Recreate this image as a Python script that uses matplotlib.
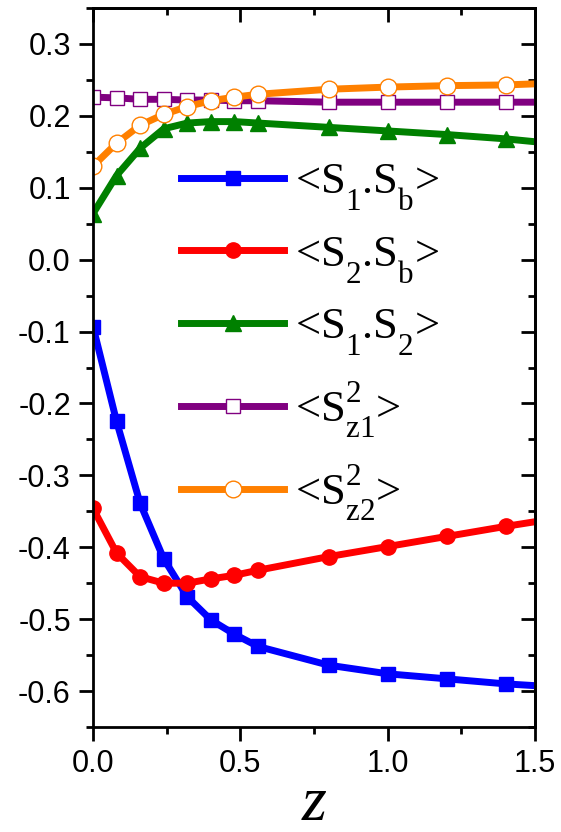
import matplotlib
matplotlib.use("Agg")
import matplotlib.pyplot as plt
from matplotlib import _mathtext
from matplotlib.ticker import MultipleLocator

plt.rcParams['font.family'] = ['Liberation Sans', 'DejaVu Sans']
plt.rcParams['mathtext.default'] = 'regular'
# deeper sub/superscripts, as in the Times-style labels
_mathtext.FontConstantsBase.sub1 = 0.85
_mathtext.FontConstantsBase.sub2 = 0.8
_mathtext.FontConstantsBase.sup1 = 0.95

# coupling strength z
z = [0.0, 0.08, 0.16, 0.24, 0.32, 0.40, 0.48, 0.56, 0.8, 1.0, 1.2, 1.4, 1.6]

s1_sb = [-0.093, -0.225, -0.339, -0.416, -0.469, -0.501, -0.521, -0.538,
         -0.564, -0.576, -0.583, -0.590, -0.595]
s2_sb = [-0.346, -0.408, -0.441, -0.450, -0.450, -0.444, -0.439, -0.432,
         -0.413, -0.399, -0.385, -0.371, -0.358]
s1_s2 = [0.064, 0.117, 0.155, 0.182, 0.190, 0.192, 0.192, 0.190,
         0.184, 0.179, 0.174, 0.168, 0.160]
sz1_sq = [0.226, 0.225, 0.223, 0.223, 0.222, 0.222, 0.221, 0.221,
          0.219, 0.219, 0.219, 0.219, 0.219]
sz2_sq = [0.130, 0.162, 0.187, 0.202, 0.213, 0.221, 0.226, 0.230,
          0.237, 0.240, 0.242, 0.243, 0.246]

labels = ['<$S_1$.$S_b$>', '<$S_2$.$S_b$>', '<$S_1$.$S_2$>',
          '<$S_{z1}^2$>', '<$S_{z2}^2$>']

fig = plt.figure(figsize=(5.61, 8.32), dpi=100)
ax = fig.add_axes([93/561, 105/832, 442/561, 719/832])

lw = 5
ax.plot(z, s1_sb, color='#0000ff', lw=lw, marker='s', ms=10, label=labels[0])
ax.plot(z, s2_sb, color='#ff0000', lw=lw, marker='o', ms=11, label=labels[1])
ax.plot(z, s1_s2, color='#008000', lw=lw, marker='^', ms=12, label=labels[2])
ax.plot(z, sz1_sq, color='#800080', lw=lw, marker='s', ms=10, mfc='white',
        mec='#800080', mew=1, label=labels[3])
ax.plot(z, sz2_sq, color='#ff8000', lw=lw, marker='o', ms=12, mfc='white',
        mec='#ff8000', mew=1, label=labels[4])

ax.set_xlim(0, 1.5)
ax.set_ylim(-0.65, 0.35)
ax.xaxis.set_major_locator(MultipleLocator(0.5))
ax.xaxis.set_minor_locator(MultipleLocator(0.25))
ax.yaxis.set_major_locator(MultipleLocator(0.1))
ax.yaxis.set_minor_locator(MultipleLocator(0.05))
ax.xaxis.set_major_formatter(lambda v, p: f'{v:.1f}')
ax.yaxis.set_major_formatter(lambda v, p: f'{v:.1f}')

for sp in ax.spines.values():
    sp.set_linewidth(2)
ax.tick_params(which='major', direction='out', length=10, width=2,
               labelsize=22, pad=6)
ax.tick_params(which='minor', direction='out', length=5, width=2)

# inward ticks along the top and right edges
top = ax.secondary_xaxis('top')
top.xaxis.set_major_locator(MultipleLocator(0.5))
top.xaxis.set_minor_locator(MultipleLocator(0.25))
right = ax.secondary_yaxis('right')
right.yaxis.set_major_locator(MultipleLocator(0.1))
right.yaxis.set_minor_locator(MultipleLocator(0.05))
for sec in (top, right):
    sec.tick_params(which='major', direction='in', length=10, width=2,
                    labeltop=False, labelright=False)
    sec.tick_params(which='minor', direction='in', length=5, width=2)
    for sp in sec.spines.values():
        sp.set_linewidth(2)

ax.set_xlabel('z', fontsize=46, family='Liberation Serif', style='italic',
              labelpad=-2)

leg = ax.legend(loc='upper left', bbox_to_anchor=(0.16, 0.81), frameon=False,
                prop={'family': 'Liberation Serif', 'size': 32},
                handlelength=2.3, handletextpad=0.25, labelspacing=0.5,
                borderaxespad=0)

fig.savefig('out.png', dpi=100)
